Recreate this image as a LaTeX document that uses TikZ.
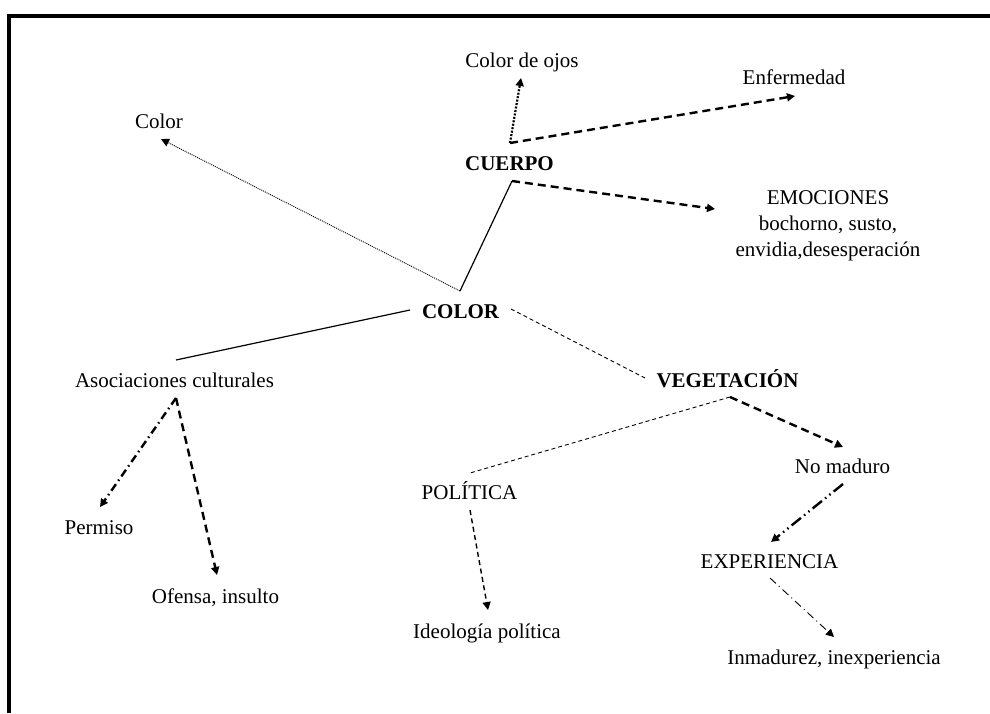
\documentclass[tikz,border=0pt]{standalone}
\usepackage{fontspec}
\setmainfont{Liberation Serif}
\usetikzlibrary{arrows.meta,calc}

\begin{document}
\begin{tikzpicture}[x=1pt,y=-1pt,
  lbl/.style={anchor=base,inner sep=0pt,font=\fontsize{21}{26}\selectfont},
  hd/.style={lbl,font=\fontsize{21}{26}\selectfont\bfseries},
  tip/.style={-{Triangle[length=8pt,width=8pt]}},
  frame/.style={line width=4.2pt},
  plainline/.style={line width=1.2pt},
  thickdash/.style={line width=2.4pt,dash pattern=on 8pt off 5pt},
  thindash/.style={line width=0.9pt,dash pattern=on 4pt off 3pt},
  middash/.style={line width=1.4pt,dash pattern=on 5pt off 3.5pt},
  dashdot/.style={line width=2.4pt,dash pattern=on 8pt off 4pt on 1.5pt off 4pt},
  dashdotdot/.style={line width=2.4pt,dash pattern=on 12pt off 4pt on 1.5pt off 4pt on 1.5pt off 4pt},
  thindashdot/.style={line width=0.9pt,dash pattern=on 8pt off 4pt on 1pt off 4pt},
  finedot/.style={line width=0.9pt,dash pattern=on 1pt off 1pt},
  thickdot/.style={line width=2.2pt,dash pattern=on 2pt off 1.5pt}
]
\useasboundingbox (0,0) rectangle (990,713);

% page frame (top and left rules)
\coordinate (ftl) at (9.2,16);
\coordinate (ftr) at (990,16);
\coordinate (fbl) at (9.2,713);
\draw[frame] (ftr) -- (ftl) -- (fbl);

% concepts
\node[hd]  (color)   at (460.5,318) {COLOR};
\node[hd]  (cuerpo)  at (509.5,170) {CUERPO};
\node[hd]  (veg)     at (727.5,387) {VEGETACIÓN};
\node[lbl] (colorl)  at (159,128)   {Color};
\node[lbl] (ojos)    at (522,67)    {Color de ojos};
\node[lbl] (enf)     at (794,84)    {Enfermedad};
\node[lbl,anchor=center,align=center] (emo) at (828,225.4)
  {EMOCIONES\\bochorno, susto,\\envidia,desesperación};
\node[lbl] (asoc)    at (174.5,387) {Asociaciones culturales};
\node[lbl] (permiso) at (99,534)    {Permiso};
\node[lbl] (ofensa)  at (215.5,603) {Ofensa, insulto};
\node[lbl] (pol)     at (469.5,499) {POLÍTICA};
\node[lbl] (ideo)    at (487,638)   {Ideología política};
\node[lbl] (noma)    at (842.5,473) {No maduro};
\node[lbl] (exp)     at (769.5,568) {EXPERIENCIA};
\node[lbl] (inm)     at (834,664)   {Inmadurez, inexperiencia};

% links
\draw[finedot,tip]   ($(color.base)+(-0.5,-27)$) -- ($(colorl.base)+(2,11)$);
\draw[plainline]     ($(color.base)+(-0.5,-27)$) -- ($(cuerpo.base)+(2.5,11)$);
\draw[thickdash,tip] ($(cuerpo.base)+(2.5,11)$)  -- ($(emo.center)+(-113,-16.4)$);
\draw[thickdot,tip]  ($(cuerpo.base)+(0.5,-27)$) -- ($(ojos.base)+(-1,11)$);
\draw[thickdash,tip] ($(cuerpo.base)+(0.5,-27)$) -- ($(enf.base)+(1,12)$);
\draw[plainline]     ($(color.base)+(-50.5,-8)$) -- ($(asoc.base)+(1.5,-27)$);
\draw[thindash]      ($(color.base)+(50.5,-9)$)  -- ($(veg.base)+(-82.5,-9)$);
\draw[thindash]      ($(veg.base)+(2.5,10)$)     -- ($(pol.base)+(0.5,-26)$);
\draw[thickdash,tip] ($(veg.base)+(2.5,10)$)     -- ($(noma.base)+(0.5,-26)$);
\draw[dashdot,tip]   ($(asoc.base)+(1.5,11)$)    -- ($(permiso.base)+(1,-27)$);
\draw[thickdash,tip] ($(asoc.base)+(1.5,11)$)    -- ($(ofensa.base)+(1.5,-28)$);
\draw[middash,tip]   ($(pol.base)+(0.5,11)$)     -- ($(ideo.base)+(1,-28)$);
\draw[dashdotdot,tip]($(noma.base)+(0.5,11)$)    -- ($(exp.base)+(1.5,-26)$);
\draw[thindashdot,tip]($(exp.base)+(0.5,10)$)    -- ($(inm.base)+(0,-27)$);
\end{tikzpicture}
\end{document}
